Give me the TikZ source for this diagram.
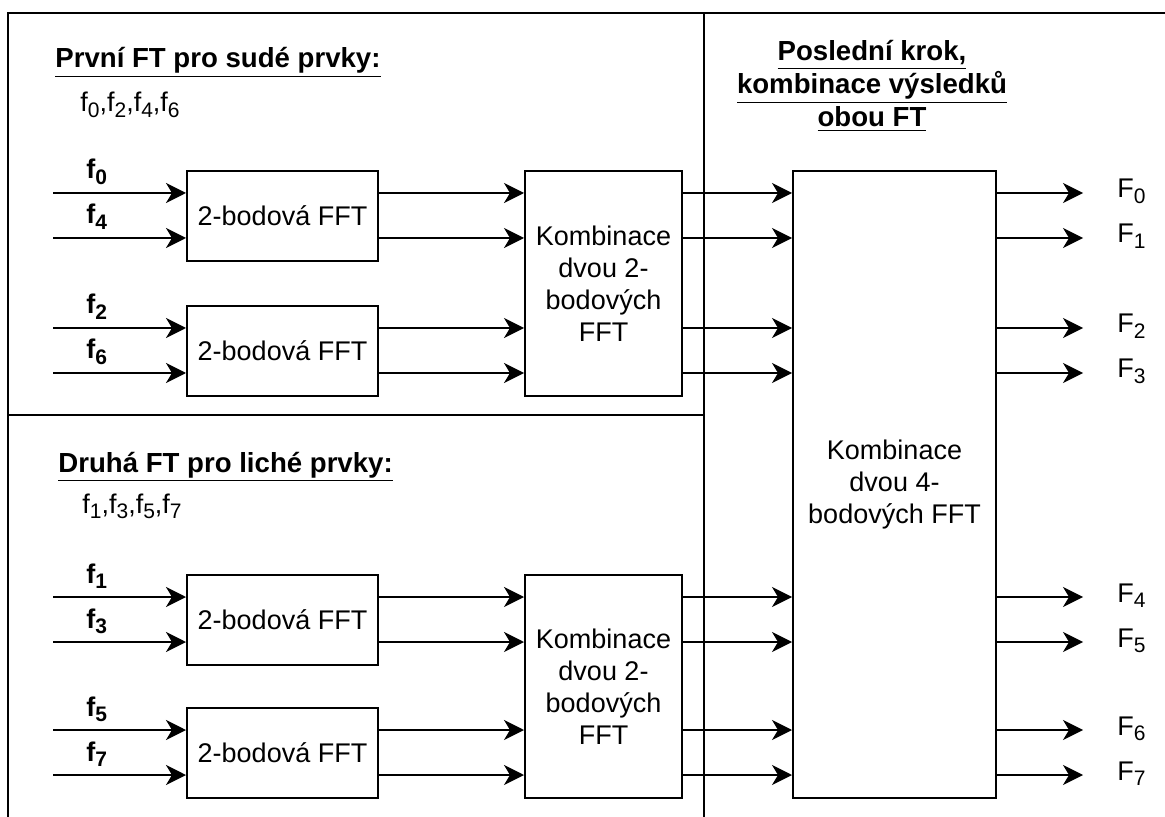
\documentclass[tikz,border=0pt]{standalone}
\usepackage{fontspec}
\setmainfont{Liberation Sans}
\usetikzlibrary{arrows.meta}
\newcommand\mysb[1]{\raisebox{-2.6pt}{\fontsize{10.5}{10.5}\selectfont #1}}
\begin{document}
\begin{tikzpicture}[x=0.5pt,y=-0.5pt,
  every node/.style={font=\fontsize{13.5}{16}\selectfont, inner sep=0pt},
  frame/.style={line width=1pt},
  blk/.style={draw, line width=1pt, align=center, inner sep=0pt},
  arr/.style={line width=1pt, -{Stealth[length=10pt,width=10pt,inset=3pt]}},
  lbl/.style={anchor=base west, inner sep=0pt},
  ttl/.style={font=\bfseries\fontsize{13.8}{16.5}\selectfont, anchor=base west}]
\useasboundingbox (0,0) rectangle (1165,817);
% frame
\draw[frame] (8,817) -- (8,13) -- (1165,13);
\draw[frame] (704,13) -- (704,817);
\draw[frame] (8,415) -- (704,415);
% titles
\node[ttl] (t1) at (55,68) {\underline{První FT pro sudé prvky:}};
\node[lbl] (l1) at (80,112) {f\mysb{0},f\mysb{2},f\mysb{4},f\mysb{6}};
\node[ttl] (t2) at (58,472) {\underline{Druhá FT pro liché prvky:}};
\node[lbl] (l2) at (82,513) {f\mysb{1},f\mysb{3},f\mysb{5},f\mysb{7}};
\node[align=center, font=\bfseries\fontsize{13.8}{16.5}\selectfont] (t3) at (872,86)
  {\underline{Poslední krok,}\\\underline{kombinace výsledků}\\\underline{obou FT}};
% blocks
\node[blk, minimum width=95.5pt, minimum height=45pt] (b1) at (282.5,216) {2-bodová FFT};
\node[blk, minimum width=95.5pt, minimum height=45pt] (b2) at (282.5,351) {2-bodová FFT};
\node[blk, minimum width=95.5pt, minimum height=45pt] (b3) at (282.5,620) {2-bodová FFT};
\node[blk, minimum width=95.5pt, minimum height=45pt] (b4) at (282.5,753) {2-bodová FFT};
\node[blk, minimum width=78.5pt, minimum height=112.5pt] (k1) at (603.5,283.5) {Kombinace\\dvou 2-\\bodových\\FFT};
\node[blk, minimum width=78.5pt, minimum height=111.5pt] (k2) at (603.5,686.5) {Kombinace\\dvou 2-\\bodových\\FFT};
\node[blk, minimum width=101.5pt, minimum height=313.5pt] (L) at (894.5,484.5) {Kombinace\\dvou 4-\\bodových FFT};
% rows
\foreach \i/\y in {0/193,1/238,2/328,3/373,4/597,5/642,6/730,7/775}{
  \coordinate (s\i) at (53,\y);
  \coordinate (t\i) at (1083,\y);
}
\foreach \i/\b in {0/b1,1/b1,2/b2,3/b2,4/b3,5/b3,6/b4,7/b4}
  \draw[arr] (s\i) -- (\b.west |- s\i);
\foreach \i/\b/\k in {0/b1/k1,1/b1/k1,2/b2/k1,3/b2/k1,4/b3/k2,5/b3/k2,6/b4/k2,7/b4/k2}
  \draw[arr] (\b.east |- s\i) -- (\k.west |- s\i);
\foreach \i/\k in {0/k1,1/k1,2/k1,3/k1,4/k2,5/k2,6/k2,7/k2}
  \draw[arr] (\k.east |- s\i) -- (L.west |- s\i);
\foreach \i in {0,...,7}
  \draw[arr] (L.east |- s\i) -- (t\i);
% input labels
\foreach \i/\n/\y in {0/0/179,1/4/224,2/2/314,3/6/359,4/1/583,5/3/628,6/5/716,7/7/761}
  \node[lbl, font=\bfseries\fontsize{13.5}{16}\selectfont] (fi\i) at (86,\y) {f\mysb{\n}};
% output labels
\foreach \i/\y in {0/198,1/243,2/333,3/378,4/602,5/647,6/735,7/780}
  \node[lbl] (fo\i) at (1117,\y) {F\mysb{\i}};
\end{tikzpicture}
\end{document}
